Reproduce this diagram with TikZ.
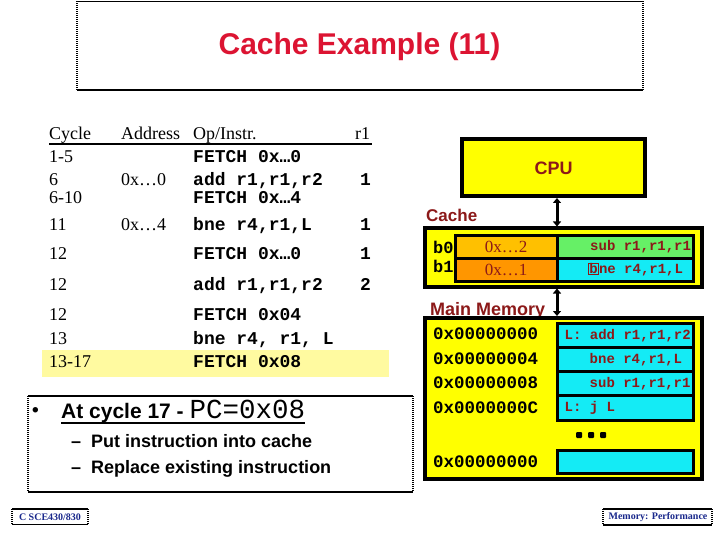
\documentclass[tikz,border=0pt]{standalone}
\usepackage{fontspec}
\setmainfont{Liberation Serif}
\newfontfamily\arialf{Liberation Sans}
\newfontfamily\courf{Liberation Mono}
\usetikzlibrary{arrows.meta,calc}
\definecolor{titlered}{RGB}{220,20,50}
\definecolor{dred}{RGB}{140,25,25}
\definecolor{navyt}{RGB}{25,40,140}
\definecolor{ylw}{RGB}{255,255,0}
\definecolor{hilite}{RGB}{255,250,160}
\definecolor{tagA}{RGB}{255,192,0}
\definecolor{tagB}{RGB}{255,150,0}
\definecolor{grn}{RGB}{102,240,102}
\definecolor{cyn}{RGB}{20,235,245}
\begin{document}
\begin{tikzpicture}[x=1pt,y=-1pt,
  tbl/.style={anchor=base west, inner sep=0pt, font=\fontsize{18}{20}\selectfont},
  cd/.style={anchor=base west, inner sep=0pt, font=\courf\bfseries\fontsize{18}{20}\selectfont},
  bigbox/.style={draw=black, line width=4pt, fill=ylw, inner sep=0pt, outer sep=0pt, anchor=north west},
  cellbox/.style={draw=black, line width=3pt, inner sep=0pt, outer sep=0pt, anchor=north west},
  celltxt/.style={anchor=west, inner sep=0pt, text=dred, font=\courf\bfseries\fontsize{14}{16}\selectfont},
  lbl/.style={anchor=base west, inner sep=0pt, text=dred, font=\arialf\bfseries\fontsize{17}{20}\selectfont},
  addr/.style={anchor=base west, inner sep=0pt, font=\courf\bfseries\fontsize{17.5}{20}\selectfont},
  dotside/.style={line width=1.5pt, dash pattern=on 1pt off 1pt},
  solidside/.style={line width=1.5pt},
  dbl/.style={line width=3pt, {Triangle[length=5pt,width=8pt]}-{Triangle[length=5pt,width=8pt]}},
  foot/.style={inner sep=0pt, text=navyt, font=\bfseries\fontsize{10}{12}\selectfont},
  subbul/.style={anchor=base west, inner sep=0pt, font=\arialf\bfseries\fontsize{18}{20}\selectfont}
]
\useasboundingbox (0,0) rectangle (720,540);
\fill[white] (0,0) rectangle (720,540);

% title frame
\draw[solidside] (77,1.5) -- (643,1.5);
\draw[solidside] (77,90) -- (643,90);
\draw[dotside] (77,1.5) -- (77,90);
\draw[dotside] (643,1.5) -- (643,90);
\node[anchor=base, inner sep=0pt, text=titlered, font=\arialf\bfseries\fontsize{30}{33}\selectfont] (title) at (359.5,55) {Cache Example (11)};

% highlight
\fill[hilite] (42,350) rectangle (389,377);

% table header
\node[tbl] (hcyc) at (49,140) {Cycle};
\node[tbl] (hadr) at (121,140) {Address};
\node[tbl] (hop) at (193,140) {Op/Instr.};
\node[tbl] (hr1) at (355,140) {r1};
\draw[line width=1.3pt] ($(hcyc.base west)+(0,4)$) -- ($(hr1.base east)+(2,4)$);

% rows
\node[tbl] (c1) at (49,163) {1-5};
\node[cd] (o1) at (193,163) {FETCH 0x…0};
\node[tbl] (c2) at (49,186) {6};
\node[tbl] (a2) at (121,186) {0x…0};
\node[cd] (o2) at (193,186) {add r1,r1,r2};
\node[cd] (r2) at (360,186) {1};
\node[tbl] (c3) at (49,204) {6-10};
\node[cd] (o3) at (193,204) {FETCH 0x…4};
\node[tbl] (c4) at (49,230) {11};
\node[tbl] (a4) at (121,230) {0x…4};
\node[cd] (o4) at (193,230) {bne r4,r1,L};
\node[cd] (r4) at (360,230) {1};
\node[tbl] (c5) at (49,259) {12};
\node[cd] (o5) at (193,259) {FETCH 0x…0};
\node[cd] (r5) at (360,259) {1};
\node[tbl] (c6) at (49,290) {12};
\node[cd] (o6) at (193,290) {add r1,r1,r2};
\node[cd] (r6) at (360,290) {2};
\node[tbl] (c7) at (49,320) {12};
\node[cd] (o7) at (193,320) {FETCH 0x04};
\node[tbl] (c8) at (49,344) {13};
\node[cd] (o8) at (193,344) {bne r4, r1, L};
\node[tbl] (c9) at (49,367) {13-17};
\node[cd] (o9) at (193,367) {FETCH 0x08};

% bullet box
\draw[solidside] (28,396) -- (413,396);
\draw[solidside] (28,492) -- (413,492);
\draw[dotside] (28,396) -- (28,492);
\draw[dotside] (413,396) -- (413,492);
\node[anchor=base west, inner sep=0pt, font=\arialf\bfseries\fontsize{19}{24}\selectfont] (dot) at (32,416) {•};
\node[anchor=base west, inner sep=0pt] (b1) at (61,418) {{\arialf\bfseries\fontsize{21}{24}\selectfont At cycle 17 - }{\courf\fontsize{27.5}{30}\selectfont PC=0x08}};
\draw[line width=1.5pt] ($(b1.base west)+(0,5)$) -- ($(b1.base east)+(0,5)$);
\node[subbul] (s1) at (71,447) {\makebox[20pt][l]{–}Put instruction into cache};
\node[subbul] (s2) at (71,473) {\makebox[20pt][l]{–}Replace existing instruction};

% footers
\draw[solidside] (12,509) -- (88,509);
\draw[solidside] (12,524.5) -- (88,524.5);
\draw[dotside] (12,509) -- (12,524.5);
\draw[dotside] (88,509) -- (88,524.5);
\node[foot] (fl) at (50,517) {C SCE430/830};
\draw[solidside] (603,509) -- (712,509);
\draw[solidside] (603,525) -- (712,525);
\draw[dotside] (603,509) -- (603,525);
\draw[dotside] (712,509) -- (712,525);
\node[foot] (fr) at (658,517.5) {Memory: Performance};

% CPU
\node[bigbox, minimum width=183pt, minimum height=57pt] (cpu) at (462,139) {};
\node[inner sep=0pt, text=dred, font=\arialf\bfseries\fontsize{18}{20}\selectfont] (cputxt) at (553.5,168) {CPU};

% Cache
\node[lbl] (cachelbl) at (426,222) {Cache};
\node[bigbox, minimum width=276.5pt, minimum height=58pt] (cache) at (425,228.5) {};
\node[cellbox, fill=tagA, minimum width=102pt, minimum height=23pt, text=dred, font=\fontsize{17}{19}\selectfont] (tag0) at (455,235) {0x…2};
\node[cellbox, fill=grn, minimum width=136.5pt, minimum height=23pt] (dat0) at (557,235) {};
\node[cellbox, fill=tagB, minimum width=102pt, minimum height=23pt, text=dred, font=\fontsize{17}{19}\selectfont] (tag1) at (455,258) {0x…1};
\node[cellbox, fill=cyn, minimum width=136.5pt, minimum height=23pt] (dat1) at (557,258) {};
\node[celltxt] (d0t) at ($(dat0.west)+(33,0)$) {sub r1,r1,r1};
\node[celltxt] (d1t) at ($(dat1.west)+(31,0)$) {\setlength\fboxsep{0pt}\setlength\fboxrule{1.2pt}\fbox{b}ne r4,r1,L};
\node[addr, font=\courf\bfseries\fontsize{17}{19}\selectfont] (b0l) at (433,254) {b0};
\node[addr, font=\courf\bfseries\fontsize{17}{19}\selectfont] (b1l) at (433,272) {b1};

% Main memory
\node[lbl, font=\arialf\bfseries\fontsize{18}{20}\selectfont] (memlbl) at (430,315) {Main Memory};
\node[bigbox, minimum width=276.5pt, minimum height=161pt] (mem) at (425,318) {};
\node[cellbox, fill=cyn, minimum width=136pt, minimum height=24pt] (m1) at (557.5,323.5) {};
\node[cellbox, fill=cyn, minimum width=136pt, minimum height=24pt] (m2) at (557.5,347.5) {};
\node[cellbox, fill=cyn, minimum width=136pt, minimum height=24pt] (m3) at (557.5,371.5) {};
\node[cellbox, fill=cyn, minimum width=136pt, minimum height=24.5pt] (m4) at (557.5,395.5) {};
\node[cellbox, fill=cyn, minimum width=136pt, minimum height=23.5pt] (m5) at (557.5,450) {};
\node[celltxt] (m1t) at ($(m1.west)+(7,0)$) {L: add r1,r1,r2};
\node[celltxt] (m2t) at ($(m2.west)+(32,0)$) {bne r4,r1,L};
\node[celltxt] (m3t) at ($(m3.west)+(32,0)$) {sub r1,r1,r1};
\node[celltxt] (m4t) at ($(m4.west)+(7,0)$) {L: j L};
\node[addr] (ad1) at (433,339) {0x00000000};
\node[addr] (ad2) at (433,364) {0x00000004};
\node[addr] (ad3) at (433,388) {0x00000008};
\node[addr] (ad4) at (433,413) {0x0000000C};
\node[addr] (ad5) at (433,467) {0x00000000};
\fill[rounded corners=1pt] (576,432) rectangle (582,438);
\fill[rounded corners=1pt] (588,432) rectangle (594,438);
\fill[rounded corners=1pt] (600,432) rectangle (606,438);

% arrows
\draw[dbl] ($(cpu.south -| tag0.east)+(0,2)$) -- ($(cache.north -| tag0.east)+(0,-2)$);
\draw[dbl] ($(cache.south -| tag0.east)+(0,2)$) -- ($(mem.north -| tag0.east)+(0,-2)$);
\end{tikzpicture}
\end{document}
